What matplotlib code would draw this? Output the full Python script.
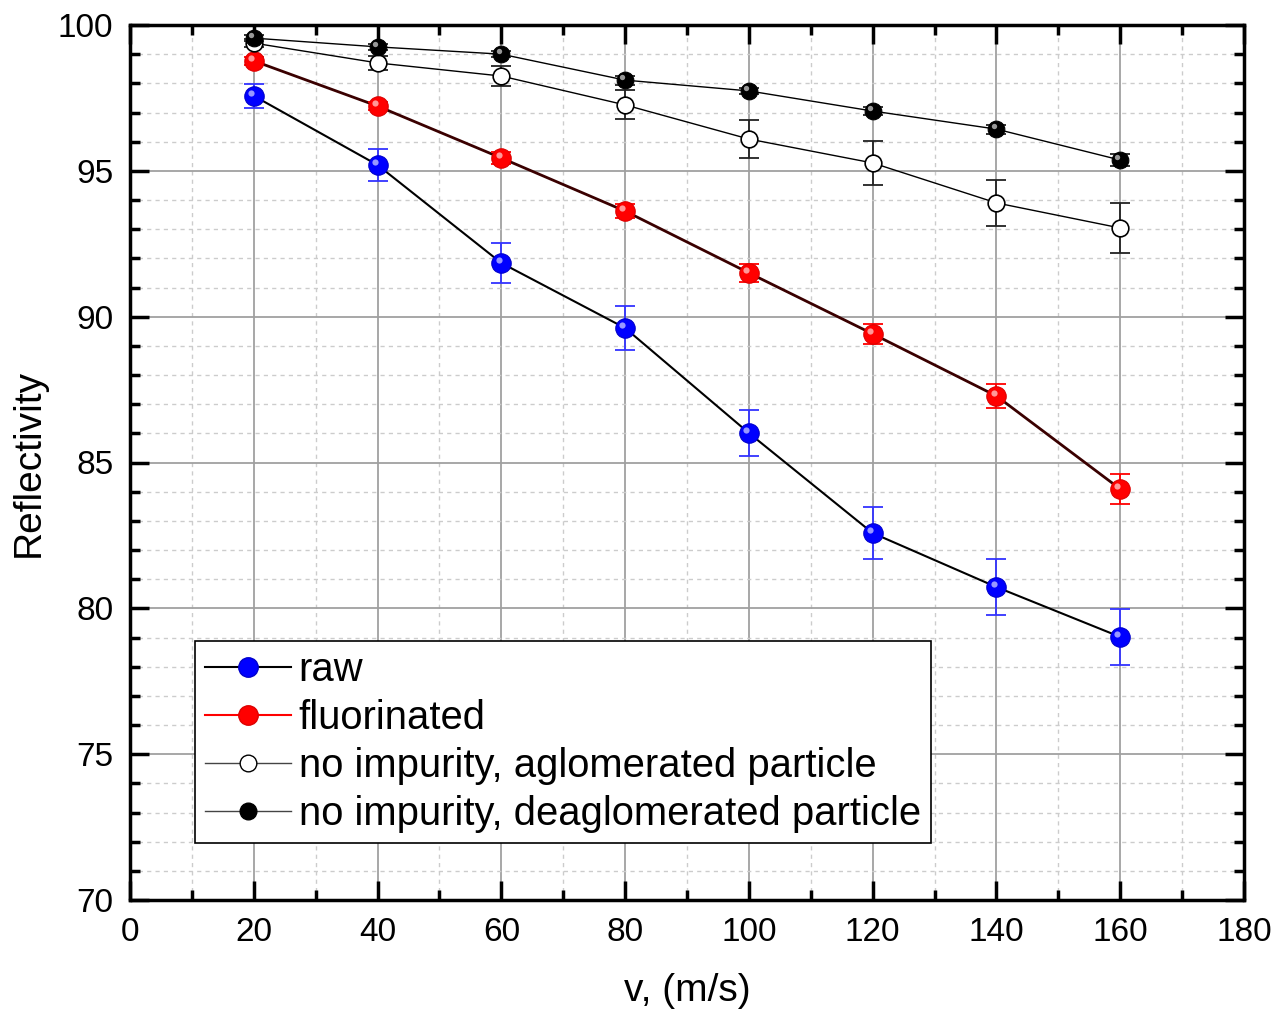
import matplotlib
matplotlib.use("Agg")
import matplotlib.pyplot as plt
import matplotlib.transforms as mtransforms
import numpy as np
from matplotlib.lines import Line2D
from matplotlib.ticker import MultipleLocator

plt.rcParams["font.family"] = ["Liberation Sans", "DejaVu Sans"]

v = [20, 40, 60, 80, 100, 120, 140, 160]

raw = [97.57, 95.2, 91.84, 89.61, 86.01, 82.58, 80.73, 79.02]
raw_err = [0.4, 0.55, 0.7, 0.75, 0.8, 0.9, 0.95, 0.95]

fluor = [98.77, 97.22, 95.44, 93.62, 91.5, 89.41, 87.28, 84.09]
fluor_err = [0.15, 0.15, 0.2, 0.25, 0.3, 0.35, 0.4, 0.5]

aglo = [99.38, 98.7, 98.25, 97.26, 96.09, 95.27, 93.9, 93.04]
aglo_err = [0.15, 0.25, 0.35, 0.5, 0.65, 0.75, 0.8, 0.85]

deaglo = [99.55, 99.25, 99.0, 98.11, 97.74, 97.05, 96.43, 95.37]
deaglo_err = [0.1, 0.1, 0.1, 0.15, 0.1, 0.15, 0.15, 0.2]

labels = ["raw", "fluorinated", "no impurity, aglomerated particle",
          "no impurity, deaglomerated particle"]

fig = plt.figure(figsize=(12.74, 10.11), dpi=100)
ax = fig.add_axes([130 / 1274, 111 / 1011, 1114 / 1274, 875 / 1011])

ax.set_xlim(0, 180)
ax.set_ylim(70, 100)
ax.xaxis.set_major_locator(MultipleLocator(20))
ax.xaxis.set_minor_locator(MultipleLocator(10))
ax.yaxis.set_major_locator(MultipleLocator(5))
ax.yaxis.set_minor_locator(MultipleLocator(1))
ax.grid(which="major", color="#a0a0a0", linewidth=1.3, linestyle="-", zorder=0)
ax.grid(which="minor", color="#cccccc", linewidth=1.0, linestyle=(0, (3, 3)), zorder=0)
ax.set_axisbelow(True)

for s in ax.spines.values():
    s.set_linewidth(2.5)
ax.tick_params(which="both", direction="in", top=True, right=True, width=2.5,
               labelsize=24, pad=12)
ax.tick_params(which="major", length=14)
ax.tick_params(which="minor", length=7)

ax.set_xlabel("v, (m/s)", fontsize=28, labelpad=18)
ax.set_ylabel("Reflectivity", fontsize=28, labelpad=8)


def shine(x, y, size, face, edge, lw=0.8):
    ax.plot(x, y, linestyle="none", marker="o", markersize=size,
            markerfacecolor=face, markeredgecolor=edge, markeredgewidth=lw, zorder=5)
    off = mtransforms.offset_copy(ax.transData, fig=fig, x=-2.0, y=2.0, units="points")
    ax.plot(x, y, linestyle="none", marker="o", markersize=size * 0.32,
            markerfacecolor="white", markeredgecolor="none", alpha=0.6,
            transform=off, zorder=6)


# lines
ax.plot(v, raw, color="black", linewidth=1.5, zorder=3)
ax.plot(v, fluor, color="#3a0000", linewidth=2.0, zorder=3)
ax.plot(v, aglo, color="black", linewidth=1.0, zorder=3)
ax.plot(v, deaglo, color="black", linewidth=1.0, zorder=3)

# error bars
ax.errorbar(v, raw, yerr=raw_err, fmt="none", ecolor="#3333ff", elinewidth=1.3,
            capsize=7, capthick=1.3, zorder=4)
ax.errorbar(v, fluor, yerr=fluor_err, fmt="none", ecolor="red", elinewidth=1.3,
            capsize=7, capthick=1.3, zorder=4)
ax.errorbar(v, aglo, yerr=aglo_err, fmt="none", ecolor="#222222", elinewidth=1.3,
            capsize=7, capthick=1.3, zorder=4)
ax.errorbar(v, deaglo, yerr=deaglo_err, fmt="none", ecolor="#222222", elinewidth=1.3,
            capsize=7, capthick=1.3, zorder=4)

# markers
shine(v, raw, 14, "#0000ff", "#0000cc")
shine(v, fluor, 14, "#ff0000", "#dd0000")
ax.plot(v, aglo, linestyle="none", marker="o", markersize=12,
        markerfacecolor="white", markeredgecolor="black", markeredgewidth=1.2, zorder=5)
shine(v, deaglo, 12, "black", "black")

handles = [
    Line2D([], [], color="black", linewidth=1.5, marker="o", markersize=14,
           markerfacecolor="#0000ff", markeredgecolor="#0000cc"),
    Line2D([], [], color="red", linewidth=1.5, marker="o", markersize=14,
           markerfacecolor="#ff0000", markeredgecolor="#dd0000"),
    Line2D([], [], color="#444444", linewidth=1.0, marker="o", markersize=12,
           markerfacecolor="white", markeredgecolor="black"),
    Line2D([], [], color="#444444", linewidth=1.0, marker="o", markersize=12,
           markerfacecolor="black", markeredgecolor="black"),
]
leg = ax.legend(handles, labels, loc="lower left", bbox_to_anchor=(0.058, 0.065),
                fontsize=28.8, frameon=True, fancybox=False, edgecolor="black",
                framealpha=1, handlelength=2.15, handletextpad=0.2,
                labelspacing=0.25, borderpad=0.25, borderaxespad=0)
leg.get_frame().set_linewidth(1.2)
leg.set_zorder(10)

fig.savefig("out.png", dpi=100)
